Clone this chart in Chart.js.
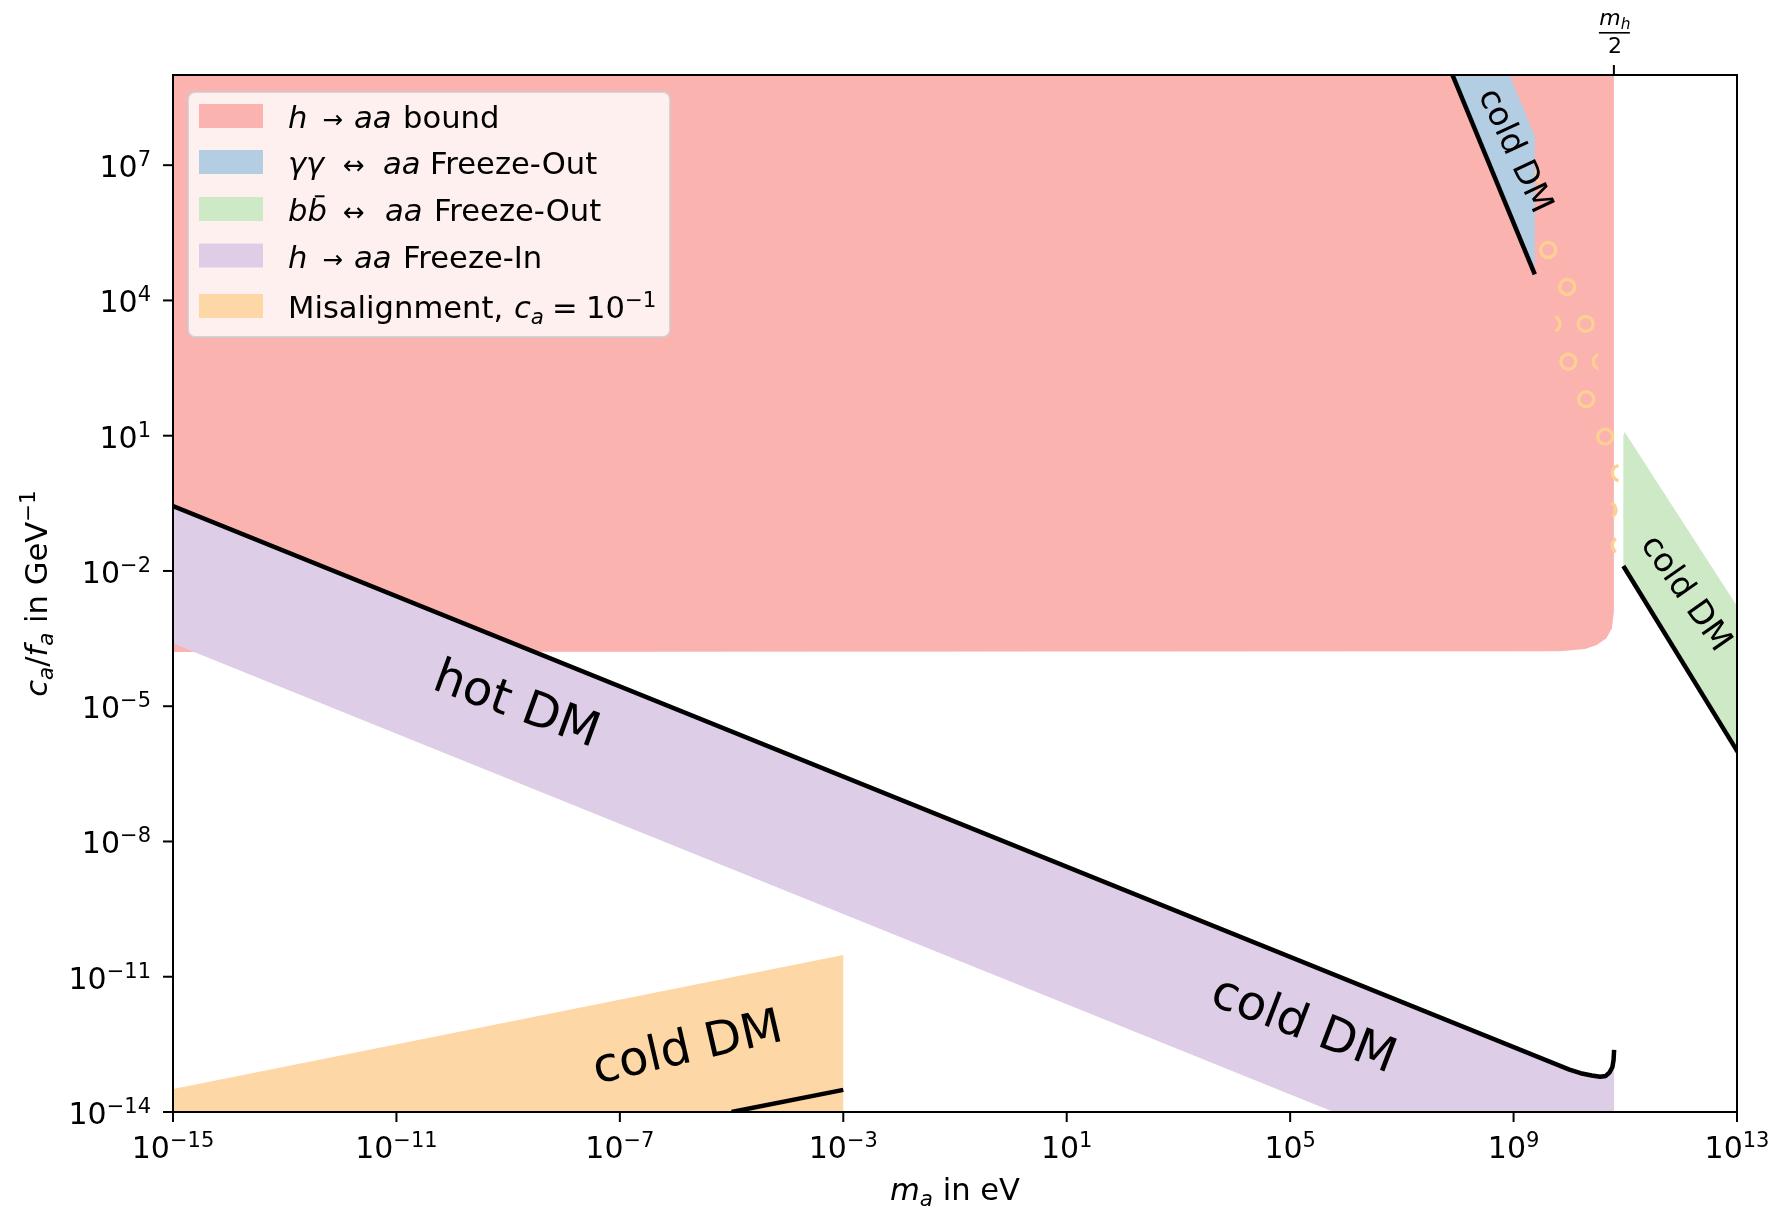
<!DOCTYPE html>
<html>
<head>
<meta charset="utf-8">
<title>ALP dark matter parameter space</title>
<script src="https://cdn.jsdelivr.net/npm/chart.js@4.4.1/dist/chart.umd.min.js"></script>
<style>
  html, body { margin: 0; padding: 0; background: #ffffff; }
  canvas { display: block; }
</style>
</head>
<body>
<canvas id="plot" width="1784" height="1208"></canvas>
<script>
// ---- data (log10 of m_a in eV, log10 of c_a/f_a in GeV^-1) ----
const xTickExp = [-15, -11, -7, -3, 1, 5, 9, 13];
const yTickExp = [-14, -11, -8, -5, -2, 1, 4, 7];
const mHalfEV = 6.25e10;              // m_h / 2

// h -> aa bound: excluded above this curve, up to m_h/2
const boundLogM = [-15, 9.83, 10.28, 10.49, 10.66, 10.76, 10.796, 10.796, -15];
const boundLogC = [-3.80, -3.78, -3.73, -3.64, -3.49, -3.27, -2.91, 9.5, 9.5];

// h -> aa freeze-in: relic-abundance line and lower edge of the band
const freezeInLogM = [-15, 10.0, 10.2, 10.4, 10.55, 10.65, 10.72, 10.77, 10.79, 10.80];
const freezeInLogC = [-0.56, -13.06, -13.14, -13.19, -13.22, -13.20, -13.12, -13.0, -12.85, -12.62];
const freezeInLowLogM = [10.80, 5.78, -15];
const freezeInLowLogC = [-14, -14, -3.61];

// gamma gamma <-> aa freeze-out
const gammaLineLogM = [7.84, 9.38];
const gammaLineLogC = [9.2, 4.58];
const gammaEdgeLogM = [8.86, 9.38];
const gammaEdgeLogC = [9.2, 7.65];

// b bbar <-> aa freeze-out
const bbLineLogM = [10.965, 13.1];
const bbLineLogC = [-1.89, -6.19];
const bbTopLogM = [10.965, 10.99, 11.02, 13.1];
const bbTopLogC = [1.0, 1.08, 1.02, -2.97];

// misalignment, c_a = 0.1
const misLogM = [-15, -15, -3, -3];
const misLogC = [-14, -13.49, -10.52, -14];
const misLineLogM = [-5, -3];
const misLineLogC = [-14, -13.51];

// misalignment contour rings near m_h/2
const ringLogM = [9.62, 9.96, 10.29, 9.98, 10.30, 10.64];
const ringLogC = [5.12, 4.30, 3.48, 2.64, 1.81, 0.98];
const arcLogM = [9.38, 9.53, 9.40, 9.70, 10.56, 10.90, 10.70, 10.90];
const arcLogC = [7.49, 6.78, 5.94, 3.48, 2.64, 0.17, -0.65, -1.43];
const arcFromDeg = [150, 115, 140, -70, 110, 100, -65, 120];
const arcToDeg = [210, 245, 220, 70, 250, 260, 60, 240];

// region annotations
const regionText = ['hot DM', 'cold DM', 'cold DM', 'cold DM', 'cold DM'];
const regionLogM = [-8.86, 5.23, -5.78, 9.01, 12.07];
const regionLogC = [-5.0, -12.11, -12.62, 7.31, -2.51];

// ---- styling ----
const RED = '#fab3ae', BLUE = '#b3cde3', GREEN = '#cde9c6', PURPLE = '#decde6',
      ORANGE = '#fdd7a5', RING = '#fdcf94';
const FONT = '"DejaVu Sans", "Liberation Sans", sans-serif';
const labelStyle = [
  { angle: 20, size: 48 }, { angle: 21, size: 48 }, { angle: -13, size: 48 },
  { angle: 65, size: 33 }, { angle: 55, size: 33 }
];

const pts = (lm, lc) => lm.map((m, i) => ({ x: Math.pow(10, m), y: Math.pow(10, lc[i]) }));

const purpleShape = pts(freezeInLogM.concat(freezeInLowLogM), freezeInLogC.concat(freezeInLowLogC));
const blueShape = pts(
  [gammaLineLogM[0], gammaEdgeLogM[0], gammaEdgeLogM[1], gammaLineLogM[1]],
  [gammaLineLogC[0], gammaEdgeLogC[0], gammaEdgeLogC[1], gammaLineLogC[1]]);
const greenShape = pts(
  [bbLineLogM[0]].concat(bbTopLogM, [bbLineLogM[1]]),
  [bbLineLogC[0]].concat(bbTopLogC, [bbLineLogC[1]]));

function area(label, data, color, order) {
  return { label, data, showLine: true, fill: 'shape', backgroundColor: color,
           borderColor: 'rgba(0,0,0,0)', borderWidth: 0, pointRadius: 0,
           tension: 0, order, clip: 0 };
}
function curve(label, data, order) {
  return { label, data, showLine: true, fill: false, borderColor: '#000000',
           borderWidth: 4.5, borderCapStyle: 'butt', borderJoinStyle: 'round',
           pointRadius: 0, tension: 0, order, clip: 0 };
}

const datasets = [
  area('h→aa bound', pts(boundLogM, boundLogC), RED, 9),
  area('Misalignment', pts(misLogM, misLogC), ORANGE, 8),
  area('h→aa Freeze-In', purpleShape, PURPLE, 7),
  { label: 'rings', data: pts(ringLogM, ringLogC), showLine: false, pointStyle: 'circle',
    pointRadius: 7.5, pointBorderWidth: 3.3, pointBorderColor: RING,
    pointBackgroundColor: 'rgba(0,0,0,0)', order: 6, clip: 0 },
  area('γγ↔aa Freeze-Out', blueShape, BLUE, 5),
  area('bb̄↔aa Freeze-Out', greenShape, GREEN, 4),
  curve('freeze-in line', pts(freezeInLogM, freezeInLogC), 1),
  curve('γγ line', pts(gammaLineLogM, gammaLineLogC), 1),
  curve('bb line', pts(bbLineLogM, bbLineLogC), 1),
  curve('misalignment line', pts(misLineLogM, misLineLogC), 1)
];
const RING_INDEX = 3;

// ---- rich text helpers (italic / sub / sup segments) ----
function setFont(ctx, size, italic) {
  ctx.font = (italic ? 'italic ' : '') + size.toFixed(1) + 'px ' + FONT;
}
function segWidth(ctx, s, S) {
  if (s.gap) return s.gap;
  setFont(ctx, S * (s.k || 1), s.it);
  return ctx.measureText(s.t).width;
}
function flowWidth(ctx, segs, S) {
  return segs.reduce((w, s) => w + segWidth(ctx, s, S), 0);
}
function drawSegs(ctx, segs, x0, base, S) {
  let cx = x0;
  ctx.textAlign = 'left';
  ctx.textBaseline = 'alphabetic';
  for (const s of segs) {
    const w = segWidth(ctx, s, S);
    if (s.gap) { cx += w; continue; }
    if (s.x !== undefined) cx = x0 + s.x;
    if (s.cx !== undefined) cx = x0 + s.cx - w / 2;
    setFont(ctx, S * (s.k || 1), s.it);
    const yy = base + (s.dy || 0) * S;
    ctx.fillText(s.t, cx, yy);
    if (s.bar) ctx.fillRect(cx + w * 0.38, yy - S * 0.84, w * 0.5, S * 0.065);
    cx += w;
  }
}
function drawCentered(ctx, segs, xc, base, S) {
  drawSegs(ctx, segs, xc - flowWidth(ctx, segs, S) / 2, base, S);
}
const sup = t => ({ t, k: 0.7, dy: -0.37 });
const subI = t => ({ t, k: 0.7, dy: 0.2, it: true });
const powLabel = e => [{ t: '10' }, sup((e < 0 ? '\u2212' : '') + Math.abs(e))];

const legendRows = [
  { color: RED, segs: [{ t: 'h', it: true, x: 0 }, { t: '\u2192', k: 0.8, cx: 45 }, { t: 'aa', it: true, x: 66 }, { t: 'bound', x: 115 }] },
  { color: BLUE, segs: [{ t: '\u03b3\u03b3', it: true, x: 0 }, { t: '\u2194', k: 0.85, cx: 66 }, { t: 'aa', it: true, x: 95 }, { t: 'Freeze-Out', x: 142 }] },
  { color: GREEN, segs: [{ t: 'b', it: true, x: 0 }, { t: 'b', it: true, bar: true }, { t: '\u2194', k: 0.85, cx: 66 }, { t: 'aa', it: true, x: 97 }, { t: 'Freeze-Out', x: 146 }] },
  { color: PURPLE, segs: [{ t: 'h', it: true, x: 0 }, { t: '\u2192', k: 0.8, cx: 45 }, { t: 'aa', it: true, x: 66 }, { t: 'Freeze-In', x: 115 }] },
  { color: ORANGE, segs: [{ t: 'Misalignment,', x: 0 }, { t: 'c', it: true, x: 226 }, subI('a'), { t: '=', x: 264 }, { t: '10', x: 298 }, sup('\u22121')] }
];

const decorations = {
  id: 'decorations',
  afterDatasetDraw(chart, args) {
    if (args.index !== RING_INDEX) return;
    const { ctx, scales: { x, y } } = chart;
    ctx.save();
    ctx.strokeStyle = RING;
    ctx.lineWidth = 3.3;
    arcLogM.forEach((m, i) => {
      const px = x.getPixelForValue(Math.pow(10, m));
      const py = y.getPixelForValue(Math.pow(10, arcLogC[i]));
      ctx.beginPath();
      ctx.arc(px, py, 7.5, arcFromDeg[i] * Math.PI / 180, arcToDeg[i] * Math.PI / 180);
      ctx.stroke();
    });
    ctx.restore();
  },
  afterDraw(chart) {
    const { ctx, chartArea: a, scales: { x, y } } = chart;
    ctx.save();
    ctx.fillStyle = '#000';
    ctx.strokeStyle = '#000';

    // region annotations
    regionText.forEach((t, i) => {
      const px = x.getPixelForValue(Math.pow(10, regionLogM[i]));
      const py = y.getPixelForValue(Math.pow(10, regionLogC[i]));
      ctx.save();
      ctx.translate(px, py);
      ctx.rotate(labelStyle[i].angle * Math.PI / 180);
      setFont(ctx, labelStyle[i].size, false);
      ctx.textAlign = 'center';
      ctx.textBaseline = 'middle';
      ctx.fillText(t, 0, 0);
      ctx.restore();
    });

    // axes frame
    ctx.lineWidth = 2;
    ctx.strokeRect(a.left, a.top, a.right - a.left, a.bottom - a.top);

    // bottom ticks and labels
    const S = 30;
    xTickExp.forEach(e => {
      const px = x.getPixelForValue(Math.pow(10, e));
      ctx.beginPath(); ctx.moveTo(px, a.bottom); ctx.lineTo(px, a.bottom + 10); ctx.stroke();
      drawCentered(ctx, powLabel(e), px, a.bottom + 46, S);
    });
    // left ticks and labels
    yTickExp.forEach(e => {
      const py = y.getPixelForValue(Math.pow(10, e));
      ctx.beginPath(); ctx.moveTo(a.left, py); ctx.lineTo(a.left - 10, py); ctx.stroke();
      const segs = powLabel(e);
      drawSegs(ctx, segs, a.left - 22 - flowWidth(ctx, segs, S), py + 12, S);
    });

    // top tick at m_h/2
    const ph = x.getPixelForValue(mHalfEV);
    ctx.beginPath(); ctx.moveTo(ph, a.top); ctx.lineTo(ph, a.top - 10); ctx.stroke();
    drawCentered(ctx, [{ t: 'm', it: true }, { t: 'h', it: true, k: 0.7, dy: 0.2 }], ph + 1, 25, 22);
    ctx.fillRect(ph - 15, 32, 31, 1.6);
    drawCentered(ctx, [{ t: '2' }], ph + 1, 53, 22);

    // axis titles
    const T = 30.6;
    drawCentered(ctx, [{ t: 'm', it: true }, subI('a'), { t: ' in eV' }], (a.left + a.right) / 2, 1200, T);
    ctx.save();
    ctx.translate(46.5, (a.top + a.bottom) / 2);
    ctx.rotate(-Math.PI / 2);
    drawCentered(ctx, [{ t: 'c', it: true }, subI('a'), { t: '/' }, { t: 'f', it: true }, subI('a'),
                       { t: ' in GeV' }, sup('\u22121')], 0, 0, T);
    ctx.restore();

    // legend
    const L = { x: 188, y: 92, w: 482, h: 245 };
    ctx.save();
    ctx.globalAlpha = 0.8;
    ctx.fillStyle = '#ffffff';
    ctx.strokeStyle = '#cccccc';
    ctx.lineWidth = 2;
    ctx.beginPath();
    ctx.roundRect(L.x, L.y, L.w, L.h, 7);
    ctx.fill();
    ctx.stroke();
    ctx.restore();
    const rowCenter = [116, 162, 209, 255.5, 306];
    legendRows.forEach((r, i) => {
      ctx.fillStyle = r.color;
      ctx.fillRect(199, rowCenter[i] - 12, 64, 24);
      ctx.fillStyle = '#000';
      drawSegs(ctx, r.segs, 288, rowCenter[i] + 12, T);
    });
    ctx.restore();
  }
};

new Chart(document.getElementById('plot'), {
  type: 'line',
  data: { datasets },
  options: {
    responsive: false,
    animation: false,
    devicePixelRatio: 1,
    layout: { padding: { left: 173, top: 75, right: 47, bottom: 96 } },
    plugins: { legend: { display: false }, tooltip: { enabled: false } },
    scales: {
      x: { type: 'logarithmic', min: 1e-15, max: 1e13, display: false },
      y: { type: 'logarithmic', min: 1e-14, max: 1e9, display: false }
    }
  },
  plugins: [decorations]
});
</script>
</body>
</html>
